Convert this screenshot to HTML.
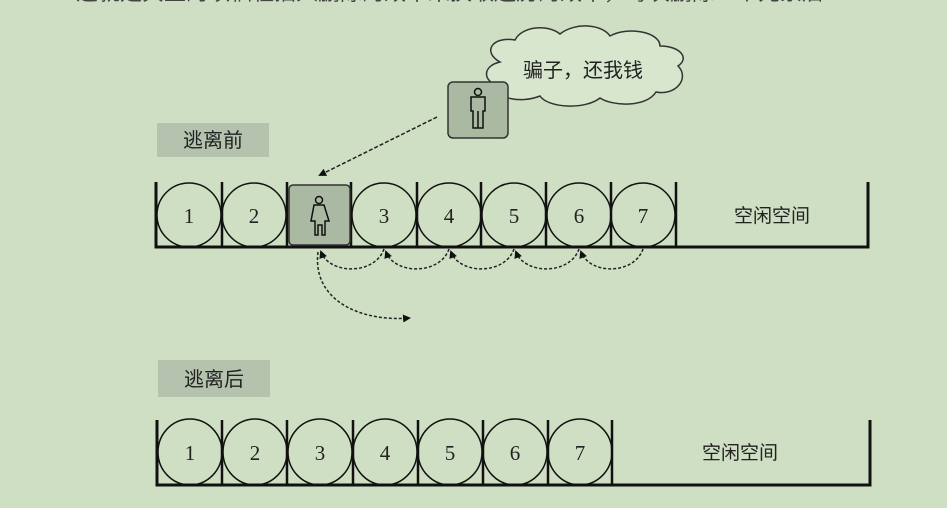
<!DOCTYPE html>
<html><head><meta charset="utf-8"><style>
html,body{margin:0;padding:0;background:#cfdfc3;}
body{width:947px;height:508px;overflow:hidden;position:relative;font-family:"Liberation Serif","Noto Serif CJK SC",serif;}
.top{position:absolute;left:76px;top:-22px;width:745px;overflow:hidden;font-size:22px;line-height:30px;color:#444;white-space:nowrap;font-family:"Liberation Sans","Noto Sans CJK SC",sans-serif;}
</style></head><body>
<div class="top">这就是典型的以牺牲插入删除的效率来换取遍历的效率，每次删除一个元素后需要移动</div>
<svg width="947" height="508" style="position:absolute;left:0;top:0" font-family="Liberation Serif, Noto Serif CJK SC, serif">
<defs>
<marker id="ah" markerWidth="8" markerHeight="8" refX="6" refY="4" orient="auto" markerUnits="userSpaceOnUse"><path d="M0,0 L8,4 L0,8 z" fill="#111"/></marker>
</defs>
<rect x="157" y="123" width="112" height="34" fill="#b5c2ae"/>
<text x="213" y="147" font-size="20" text-anchor="middle" fill="#222" font-family="Noto Sans CJK SC, sans-serif">逃离前</text>
<rect x="158" y="360" width="112" height="37" fill="#b5c2ae"/>
<text x="214" y="386" font-size="20" text-anchor="middle" fill="#222" font-family="Noto Sans CJK SC, sans-serif">逃离后</text>

<path d="M500,62 C482,52 492,36 515,40 C522,26 548,24 560,34 C575,22 602,24 610,36 C628,26 660,32 660,46 C680,46 690,58 678,66 C690,78 676,96 656,92 C646,108 612,106 600,98 C585,110 548,108 540,96 C520,104 494,98 500,86 C482,82 482,66 500,62 Z" fill="#d8e6cd" stroke="#333" stroke-width="1.5"/>
<text x="583" y="77" font-size="20" text-anchor="middle" fill="#222" font-family="Noto Sans CJK SC, sans-serif">骗子，还我钱</text>

<rect x="448" y="82" width="60" height="56" rx="5" fill="#a9b9a2" stroke="#333" stroke-width="1.5"/>
<g fill="none" stroke="#111" stroke-width="1.5">
<circle cx="478" cy="92" r="3.5"/>
<path d="M471,97 h14 v14 h-2 v17 h-10 v-17 h-2 z M478,111 v17"/>
</g>

<line x1="437" y1="117" x2="320" y2="175" stroke="#222" stroke-width="1.5" stroke-dasharray="4,2" marker-end="url(#ah)"/>

<g stroke="#111" fill="none">
<path d="M156,182 V247 H868 V182" stroke-width="3"/>
<g stroke-width="2.5">
<line x1="222" y1="182" x2="222" y2="247"/><line x1="287" y1="182" x2="287" y2="247"/>
<line x1="351" y1="182" x2="351" y2="247"/><line x1="417" y1="182" x2="417" y2="247"/>
<line x1="481" y1="182" x2="481" y2="247"/><line x1="546" y1="182" x2="546" y2="247"/>
<line x1="611" y1="182" x2="611" y2="247"/><line x1="676" y1="182" x2="676" y2="247"/>
</g>
<g stroke-width="1.5">
<ellipse cx="189" cy="215" rx="32" ry="32"/><ellipse cx="254" cy="215" rx="32" ry="32"/>
<ellipse cx="384" cy="215" rx="32" ry="32"/><ellipse cx="449" cy="215" rx="32" ry="32"/>
<ellipse cx="514" cy="215" rx="32" ry="32"/><ellipse cx="579" cy="215" rx="32" ry="32"/>
<ellipse cx="643" cy="215" rx="32" ry="32"/>
</g>
</g>
<rect x="289" y="185" width="61" height="60" rx="4" fill="#a9b9a2" stroke="#333" stroke-width="1.5"/>
<g fill="none" stroke="#111" stroke-width="1.5">
<circle cx="319" cy="200" r="3.5"/>
<path d="M314,205 h10 l5,16 h-4 v14 h-3 v-10 h-4 v10 h-3 v-14 h-4 z"/>
</g>
<g font-size="21" text-anchor="middle" fill="#222">
<text x="189" y="223">1</text><text x="254" y="223">2</text><text x="384" y="223">3</text>
<text x="449" y="223">4</text><text x="514" y="223">5</text><text x="579" y="223">6</text><text x="643" y="223">7</text>
</g>
<text x="772" y="222" font-size="19" text-anchor="middle" fill="#222" font-family="Noto Sans CJK SC, sans-serif">空闲空间</text>

<g fill="none" stroke="#222" stroke-width="1.5" stroke-dasharray="3,2">
<path d="M384,249 C375,275 330,275 321,252" marker-end="url(#ah)"/>
<path d="M449,249 C440,275 395,275 386,252" marker-end="url(#ah)"/>
<path d="M514,249 C505,275 460,275 451,252" marker-end="url(#ah)"/>
<path d="M579,249 C570,275 525,275 516,252" marker-end="url(#ah)"/>
<path d="M643,249 C634,275 590,275 581,252" marker-end="url(#ah)"/>
<path d="M318,252 C312,300 360,322 409,318" marker-end="url(#ah)"/>
</g>

<g stroke="#111" fill="none">
<path d="M157,420 V485 H870 V420" stroke-width="3"/>
<g stroke-width="2.5">
<line x1="222" y1="420" x2="222" y2="485"/><line x1="287" y1="420" x2="287" y2="485"/>
<line x1="353" y1="420" x2="353" y2="485"/><line x1="418" y1="420" x2="418" y2="485"/>
<line x1="483" y1="420" x2="483" y2="485"/><line x1="548" y1="420" x2="548" y2="485"/>
<line x1="612" y1="420" x2="612" y2="485"/>
</g>
<g stroke-width="1.5">
<ellipse cx="190" cy="452" rx="32" ry="33"/><ellipse cx="255" cy="452" rx="32" ry="33"/>
<ellipse cx="320" cy="452" rx="32" ry="33"/><ellipse cx="385" cy="452" rx="32" ry="33"/>
<ellipse cx="450" cy="452" rx="32" ry="33"/><ellipse cx="515" cy="452" rx="32" ry="33"/>
<ellipse cx="580" cy="452" rx="32" ry="33"/>
</g>
</g>
<g font-size="21" text-anchor="middle" fill="#222">
<text x="190" y="460">1</text><text x="255" y="460">2</text><text x="320" y="460">3</text>
<text x="385" y="460">4</text><text x="450" y="460">5</text><text x="515" y="460">6</text><text x="580" y="460">7</text>
</g>
<text x="740" y="459" font-size="19" text-anchor="middle" fill="#222" font-family="Noto Sans CJK SC, sans-serif">空闲空间</text>
</svg>
</body></html>
